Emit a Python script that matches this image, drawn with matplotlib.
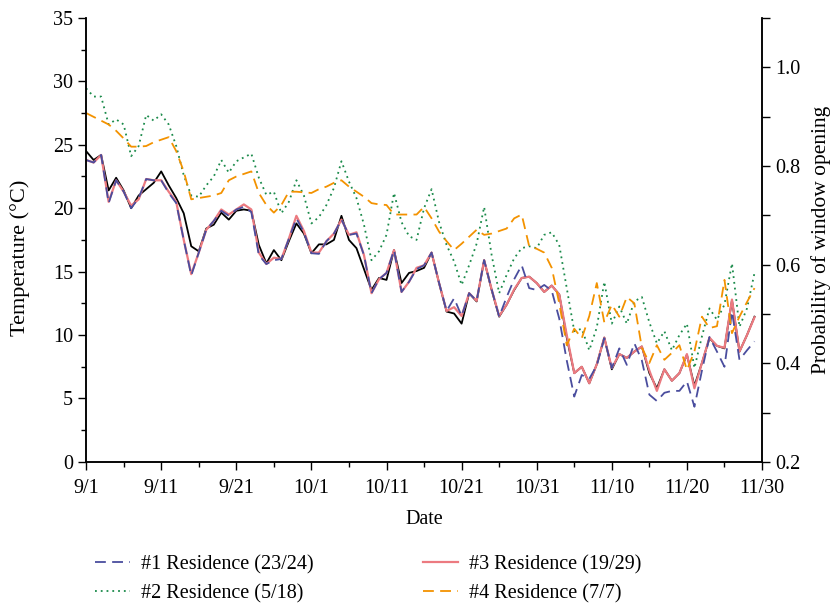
import matplotlib
matplotlib.use("Agg")
import matplotlib.pyplot as plt
from matplotlib.ticker import MultipleLocator

plt.rcParams['font.family'] = ['Liberation Serif', 'DejaVu Serif']

# day offsets from 9/1
days = list(range(90))
tick_days = [0, 10, 20, 30, 40, 50, 60, 70, 80, 90]
tick_labels = ["9/1", "9/11", "9/21", "10/1", "10/11", "10/21", "10/31", "11/10", "11/20", "11/30"]

res1 = [23.8, 23.6, 24.2, 20.4, 22.2, 21.3, 20.0, 20.8, 22.3, 22.2,
        22.2, 21.2, 20.4, 17.5, 14.7, 16.5, 18.3, 19.0, 19.8, 19.4,
        19.9, 20.1, 19.7, 16.3, 15.6, 15.9, 16.0, 17.6, 19.2, 18.1,
        16.45, 16.4, 17.4, 18.0, 19.1, 17.9, 18.0, 16.3, 13.3, 14.4,
        14.9, 16.7, 13.4, 14.2, 15.2, 15.5, 16.5, 14.1, 11.9, 12.9,
        11.5, 13.3, 12.7, 15.9, 13.6, 11.45, 13.0, 14.4, 15.5, 13.7,
        13.55, 13.95, 13.5, 11.3, 8.0, 5.15, 6.85, 6.55, 7.6, 9.75,
        7.4, 8.95, 7.65, 9.35, 8.0, 5.3, 4.8, 5.45, 5.6, 5.6,
        6.35, 4.35, 7.2, 9.85, 8.7, 7.5, 11.85, 8.05, 8.8, 9.5]

res2 = [29.45, 28.8, 28.8, 26.6, 27.0, 26.6, 24.1, 24.9, 27.35, 26.9,
        27.4, 26.6, 24.9, 22.6, 21.0, 20.9, 21.8, 22.5, 23.8, 22.8,
        23.7, 24.0, 24.3, 22.4, 21.05, 21.3, 19.6, 20.5, 22.2, 21.0,
        18.8, 19.3, 20.25, 21.6, 23.7, 22.1, 20.8, 18.7, 15.9, 16.6,
        17.9, 21.2, 18.9, 17.8, 17.5, 20.0, 21.5, 18.9, 17.1, 15.8,
        13.95, 15.5, 17.2, 20.1, 16.3, 13.3, 14.75, 16.05, 16.85, 17.0,
        16.85, 17.9, 18.1, 17.1, 13.7, 10.3, 10.5, 8.8, 10.6, 14.2,
        10.9, 12.25, 10.9, 12.65, 13.0, 11.0, 9.35, 10.3, 8.8, 10.0,
        10.9, 7.4, 9.9, 12.1, 11.2, 12.4, 15.65, 10.65, 12.1, 14.9]

res3 = [23.8, 23.6, 24.2, 20.5, 22.2, 21.3, 20.2, 20.7, 22.3, 22.2,
        22.2, 21.3, 20.5, 17.5, 14.8, 16.5, 18.3, 19.0, 19.9, 19.5,
        19.9, 20.3, 19.9, 16.5, 15.6, 16.1, 16.0, 17.6, 19.4, 18.2,
        16.5, 16.5, 17.4, 18.0, 19.1, 17.9, 18.1, 16.3, 13.3, 14.4,
        14.9, 16.7, 13.4, 14.2, 15.3, 15.5, 16.5, 14.1, 11.9, 12.2,
        11.5, 13.3, 12.7, 15.9, 13.6, 11.5, 12.4, 13.6, 14.5, 14.6,
        14.1, 13.4, 13.9, 13.2, 10.0, 7.0, 7.5, 6.2, 7.7, 9.8,
        7.4, 8.5, 8.2, 8.7, 9.1, 7.2, 5.6, 7.3, 6.4, 7.0,
        8.5, 5.8, 7.8, 9.8, 9.15, 9.0, 12.8, 8.7, 10.0, 11.4]

res4 = [27.5, 27.2, 26.9, 26.6, 26.1, 25.5, 24.85, 24.85, 24.9, 25.2,
        25.4, 25.6, 24.5, 22.9, 20.7, 20.8, 20.9, 21.0, 21.2, 22.2,
        22.5, 22.7, 22.9, 21.2, 20.25, 19.65, 20.25, 21.3, 21.3, 21.25,
        21.2, 21.5, 21.7, 22.0, 22.2, 21.7, 21.3, 20.9, 20.4, 20.3,
        20.25, 19.5, 19.5, 19.5, 19.5, 20.1, 19.2, 18.15, 17.4, 16.7,
        17.2, 17.75, 18.3, 17.9, 18.0, 18.2, 18.4, 19.2, 19.5, 17.0,
        16.8, 16.5, 15.3, 12.5, 9.2, 10.5, 9.75, 11.5, 14.1, 11.0,
        12.4, 11.45, 13.0, 12.5, 9.0, 7.8, 9.2, 8.05, 8.6, 9.2,
        7.25, 8.7, 11.45, 10.55, 10.7, 14.35, 10.15, 11.45, 12.6, 13.7]

outdoor = [24.5, 23.8, 24.2, 21.4, 22.4, 21.4, 20.0, 21.0, 21.5, 22.0,
           22.9, 21.8, 20.8, 19.6, 17.0, 16.6, 18.4, 18.7, 19.65, 19.1,
           19.8, 19.9, 19.8, 17.1, 15.65, 16.7, 15.9, 17.4, 18.8, 18.0,
           16.45, 17.15, 17.15, 17.5, 19.4, 17.5, 16.85, 15.2, 13.55, 14.5,
           14.35, 16.7, 14.1, 14.9, 15.05, 15.3, 16.5, 14.1, 11.85, 11.7,
           10.9, 13.3, 12.65, 15.9, 13.55, 11.45, 12.4, 13.55, 14.5, 14.6,
           14.1, 13.4, 13.9, 13.2, 9.8, 7.0, 7.5, 6.2, 7.7, 9.8,
           7.3, 8.5, 8.2, 8.7, 9.1, 7.0, 5.8, 7.3, 6.4, 7.0,
           8.45, 6.0, 7.8, 9.75, 9.15, 8.95, 12.75, 8.7, 10.0, 11.45]

fs = 14.5

fig = plt.figure(figsize=(8.36, 6.07), dpi=100)
ax = fig.add_axes([0.103, 0.239, 0.8085, 0.7315])

ax.plot(days, outdoor, color="black", lw=1.3)
l3, = ax.plot(days, res3, color="#ec7a80", lw=1.6, label="#3 Residence (19/29)")
l1, = ax.plot(days, res1, color="#4a4d9e", lw=1.3, ls=(0, (6, 3.5)), label="#1 Residence (23/24)")
l2, = ax.plot(days, res2, color="#1a8a4a", lw=1.3, ls=(0, (1, 2.2)), label="#2 Residence (5/18)")
l4, = ax.plot(days, res4, color="#f39200", lw=1.3, ls=(0, (6, 3.5)), label="#4 Residence (7/7)")

ax.set_xlim(0, 90)
ax.set_ylim(0, 35)
ax.set_xticks(tick_days)
ax.set_xticklabels(tick_labels)
ax.xaxis.set_minor_locator(MultipleLocator(5))
ax.yaxis.set_major_locator(MultipleLocator(5))
ax.yaxis.set_minor_locator(MultipleLocator(2.5))
ax.tick_params(axis="both", which="major", direction="out", length=6, width=1, labelsize=fs)
ax.tick_params(axis="both", which="minor", direction="out", length=3.5, width=1)
ax.tick_params(axis="x", which="major", pad=6)
ax.spines["top"].set_visible(False)
ax.set_xlabel("Date", fontsize=fs, labelpad=9)
ax.set_ylabel("Temperature (°C)", fontsize=16)
ax.yaxis.set_label_coords(-0.083, 0.46)

ax2 = ax.twinx()
ax2.set_ylim(0.2, 1.1)
ax2.yaxis.set_major_locator(MultipleLocator(0.2))
ax2.yaxis.set_minor_locator(MultipleLocator(0.1))
ax2.tick_params(axis="y", which="major", direction="out", length=6, width=1, labelsize=fs)
ax2.tick_params(axis="y", which="minor", direction="out", length=6, width=1)
ax2.spines["top"].set_visible(False)
ax2.set_ylabel("Probability of window opening", fontsize=15.5, labelpad=8)

for a in (ax, ax2):
    for s in a.spines.values():
        s.set_linewidth(1.1)

fig.legend(handles=[l1, l2, l3, l4], ncol=2, loc="center left", bbox_to_anchor=(0.1017, 0.046),
           frameon=False, fontsize=fs, borderpad=0, handlelength=1.75, handletextpad=0.55,
           columnspacing=5.4, labelspacing=0.5)

fig.savefig("out.png", dpi=100)
